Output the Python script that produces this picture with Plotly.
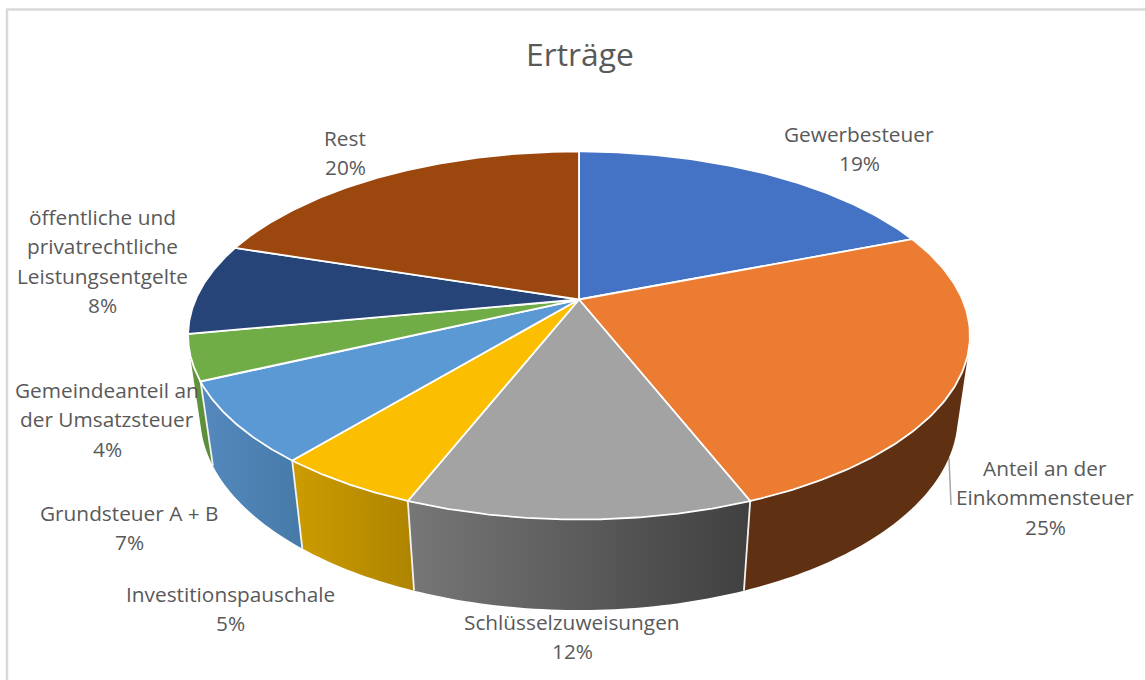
import numpy as np
import plotly.graph_objects as go

# ---- data -----------------------------------------------------------------
title = "Erträge"
categories = ["Gewerbesteuer", "Anteil an der Einkommensteuer", "Schlüsselzuweisungen",
              "Investitionspauschale", "Grundsteuer A + B", "Gemeindeanteil an der Umsatzsteuer",
              "öffentliche und privatrechtliche Leistungsentgelte", "Rest"]
values = [19.05, 25.0, 11.9, 5.0, 7.05, 4.0, 8.0, 20.0]
top_colors = ["#4472C4", "#EB7C32", "#A3A3A3", "#FCBE00", "#5A99D4", "#70AD47", "#264478", "#9C470D"]
wall_left = ["#4472C4", "#5F3012", "#777777", "#CC9C00", "#5589BE", "#64983F", "#264478", "#9E480E"]
wall_right = ["#4472C4", "#5F3012", "#404040", "#AE8400", "#457AA8", "#5A8A39", "#264478", "#9E480E"]
label_lines = [["Gewerbesteuer"], ["Anteil an der", "Einkommensteuer"], ["Schlüsselzuweisungen"],
               ["Investitionspauschale"], ["Grundsteuer A + B"], ["Gemeindeanteil an", "der Umsatzsteuer"],
               ["öffentliche und", "privatrechtliche", "Leistungsentgelte"], ["Rest"]]
label_x = [859, 1045, 572, 230, 129, 107, 102, 345]
label_first_y = [133.5, 467.5, 621.5, 593.5, 512.5, 389.5, 216.5, 137.5]

# ---- projection of the pie onto the page ------------------------------------
X0, Y0 = 579, 299.5
B, A, K = 383.4, 177.0, 0.1956
DEPTH_Y, DEPTH_W = 82.4, 0.031
FONT = "Open Sans"
TEXT = "#595959"


def project(theta_deg, lower=False):
    t = np.radians(theta_deg)
    sx, cy = np.sin(t), np.cos(t)
    w = 1 + K * cy + (DEPTH_W if lower else 0)
    return X0 + B * sx / w, Y0 + (-A * cy + (DEPTH_Y if lower else 0)) / w


total = sum(values)
edges = np.concatenate([[0], np.cumsum(values)]) * 360 / total

fig = go.Figure()

# leader line of the label "Anteil an der Einkommensteuer"
fig.add_trace(go.Scatter(x=[949, 951], y=[458, 505], mode="lines",
                         line=dict(color="#A6A6A6", width=1.5), hoverinfo="skip"))

# side walls, only the ones turned towards the viewer
for i in sorted(range(len(values)), key=lambda j: -abs((edges[j] + edges[j + 1]) / 2 - 180)):
    a, b = edges[i], edges[i + 1]
    if a >= 259.5:
        continue
    ts = np.arange(a, b + 1e-6, 1.0)
    ts = np.append(ts, b)
    xs, ys = [], []
    for t0, t1 in zip(ts[:-1], ts[1:]):
        if t1 - t0 < 1e-9:
            continue
        p = [project(t0), project(t1), project(t1, True), project(t0, True)]
        area = sum(p[k][0] * p[(k + 1) % 4][1] - p[(k + 1) % 4][0] * p[k][1] for k in range(4))
        if area < 0:
            p = p[::-1]
        xs += [q[0] for q in p] + [p[0][0], None]
        ys += [q[1] for q in p] + [p[0][1], None]
    fig.add_trace(go.Scatter(
        x=xs, y=ys, mode="lines", line=dict(width=0), fill="toself",
        fillgradient=dict(type="horizontal",
                          colorscale=[[0, wall_left[i]], [1, wall_right[i]]]),
        hoverinfo="skip"))

# white separators on the front wall
for e in edges[1:6]:
    x0, y0 = project(e)
    x1, y1 = project(e, True)
    fig.add_trace(go.Scatter(x=[x0, x1], y=[y0, y1], mode="lines",
                             line=dict(color="#F2F2F2", width=1.8), hoverinfo="skip"))

# top surface
for i in range(len(values)):
    ts = np.linspace(edges[i], edges[i + 1], 120)
    px, py = project(ts)
    fig.add_trace(go.Scatter(
        x=np.concatenate([[X0], px, [X0]]), y=np.concatenate([[Y0], py, [Y0]]),
        mode="lines", fill="toself", fillcolor=top_colors[i],
        line=dict(color="white", width=1.8), hoverinfo="skip"))

# labels
annotations = []
for lines, v, lx, ly in zip(label_lines, values, label_x, label_first_y):
    for n, txt in enumerate(lines + [f"{round(v)}%"]):
        annotations.append(dict(x=lx, y=ly + n * 29.5, text=txt, showarrow=False,
                                xref="x", yref="y", xanchor="center", yanchor="middle",
                                font=dict(family=FONT, size=20.8, color=TEXT)))
annotations.append(dict(x=580, y=53, text=title, showarrow=False, xref="x", yref="y",
                        xanchor="center", yanchor="middle",
                        font=dict(family=FONT, size=31.8, color=TEXT)))

# chart frame: only the top and left edges are inside the picture
shapes = [dict(type="line", xref="x", yref="y", x0=7, x1=7, y0=9, y1=680,
               line=dict(color="#D9D9D9", width=2.5)),
          dict(type="line", xref="x", yref="y", x0=6, x1=1145, y0=9.5, y1=9.5,
               line=dict(color="#D9D9D9", width=2.5))]

fig.update_layout(
    width=1145, height=680, margin=dict(l=0, r=0, t=0, b=0),
    paper_bgcolor="white", plot_bgcolor="white", showlegend=False,
    xaxis=dict(range=[0, 1145], visible=False, fixedrange=True),
    yaxis=dict(range=[680, 0], visible=False, fixedrange=True),
    annotations=annotations, shapes=shapes,
)

fig.write_html("out.html", config={"displayModeBar": False},
               post_script="document.body.style.margin='0';document.documentElement.style.overflow='hidden';")
